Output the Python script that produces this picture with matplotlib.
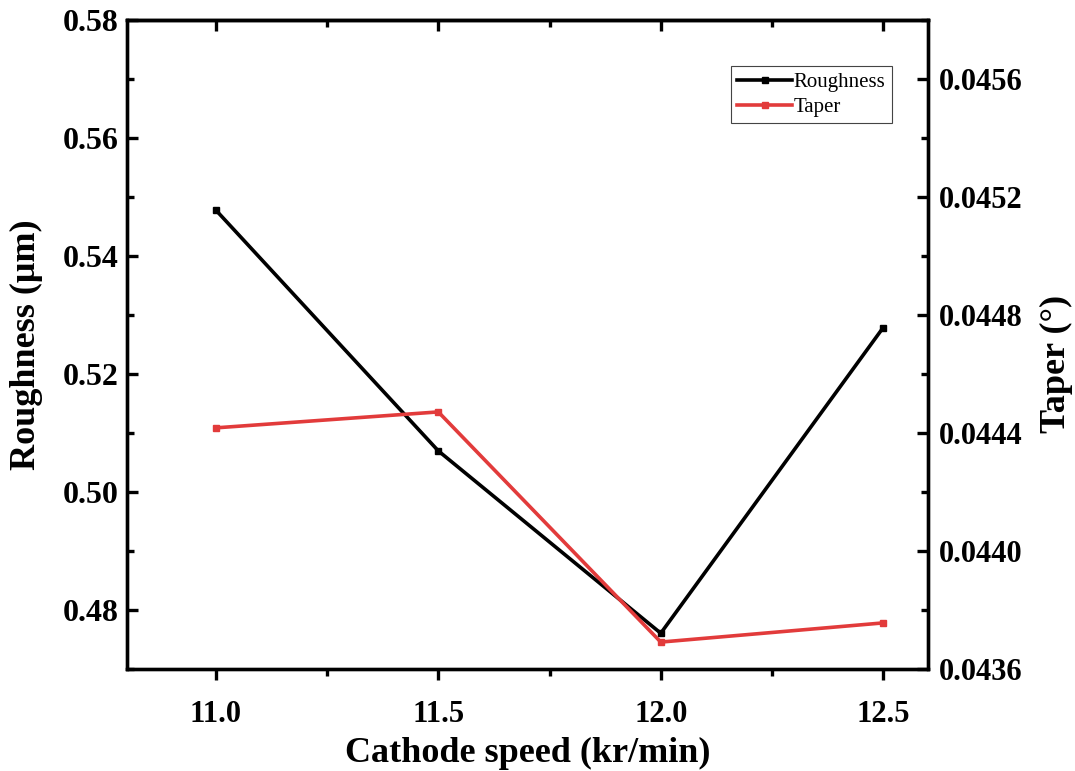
import numpy as np
import matplotlib.pyplot as plt
from matplotlib.ticker import MultipleLocator

# dados
speed = [11.0, 11.5, 12.0, 12.5]
roughness = [0.5478, 0.5070, 0.4761, 0.5279]
taper = [0.044418, 0.044472, 0.043692, 0.043757]

plt.rcParams['font.family'] = 'Liberation Serif'
plt.rcParams['font.weight'] = 'bold'

fig = plt.figure(figsize=(10.75, 7.71), dpi=100)
ax = fig.add_axes([0.118, 0.132, 0.745, 0.842])
ax2 = ax.twinx()

l1, = ax.plot(speed, roughness, '-s', color='black', lw=2.6, ms=5, label='Roughness')
l2, = ax2.plot(speed, taper, '-s', color='#e23b3b', lw=2.6, ms=5, label='Taper')

ax.set_xlim(10.8, 12.6)
ax.set_ylim(0.47, 0.58)
ax2.set_ylim(0.0436, 0.0458)

ax.xaxis.set_major_locator(MultipleLocator(0.5))
ax.xaxis.set_minor_locator(MultipleLocator(0.25))
ax.yaxis.set_major_locator(MultipleLocator(0.02))
ax.yaxis.set_minor_locator(MultipleLocator(0.01))
ax2.yaxis.set_major_locator(MultipleLocator(0.0004))
ax2.yaxis.set_minor_locator(MultipleLocator(0.0002))

ax.xaxis.set_major_formatter(plt.FormatStrFormatter('%.1f'))
ax.yaxis.set_major_formatter(plt.FormatStrFormatter('%.2f'))
ax2.yaxis.set_major_formatter(plt.FormatStrFormatter('%.4f'))

for s in ax.spines.values():
    s.set_linewidth(2.4)
for s in ax2.spines.values():
    s.set_linewidth(2.4)

ax.tick_params(axis='x', which='both', direction='out', top=False, labelsize=22, pad=14)
ax.tick_params(axis='x', which='major', length=8, width=2.4)
ax.tick_params(axis='x', which='minor', length=5, width=2.4)
ax.tick_params(axis='y', which='both', direction='in', labelsize=23, width=2.4, pad=6)
ax.tick_params(axis='y', which='major', length=8)
ax.tick_params(axis='y', which='minor', length=5)
ax2.tick_params(axis='y', which='both', direction='in', labelsize=22, width=2.4, pad=8)
ax2.tick_params(axis='y', which='major', length=8)
ax2.tick_params(axis='y', which='minor', length=5)

# ticks no topo, para dentro
top = ax.secondary_xaxis('top')
top.xaxis.set_major_locator(MultipleLocator(0.5))
top.xaxis.set_minor_locator(MultipleLocator(0.25))
top.tick_params(which='both', direction='in', labeltop=False, width=2.4)
top.tick_params(which='major', length=8)
top.tick_params(which='minor', length=5)
top.spines['top'].set_linewidth(2.4)

ax.set_xlabel('Cathode speed (kr/min)', fontsize=26, fontweight='bold', labelpad=6)
ax.set_ylabel('Roughness (\u03bcm)', fontsize=26, fontweight='bold', labelpad=14)
ax2.set_ylabel('Taper (\u00b0)', fontsize=26, fontweight='bold')
ax2.yaxis.set_label_coords(1.14, 0.47)

leg = ax.legend([l1, l2], ['Roughness', 'Taper'], loc='upper right',
                bbox_to_anchor=(0.968, 0.945), fancybox=False, framealpha=1,
                edgecolor='#444444', prop={'family': 'Liberation Serif', 'weight': 'normal', 'size': 15},
                handlelength=2.6, handletextpad=0.1, borderpad=0.3, labelspacing=0.25)
leg.get_frame().set_linewidth(0.8)

fig.savefig('out.png', dpi=100)
